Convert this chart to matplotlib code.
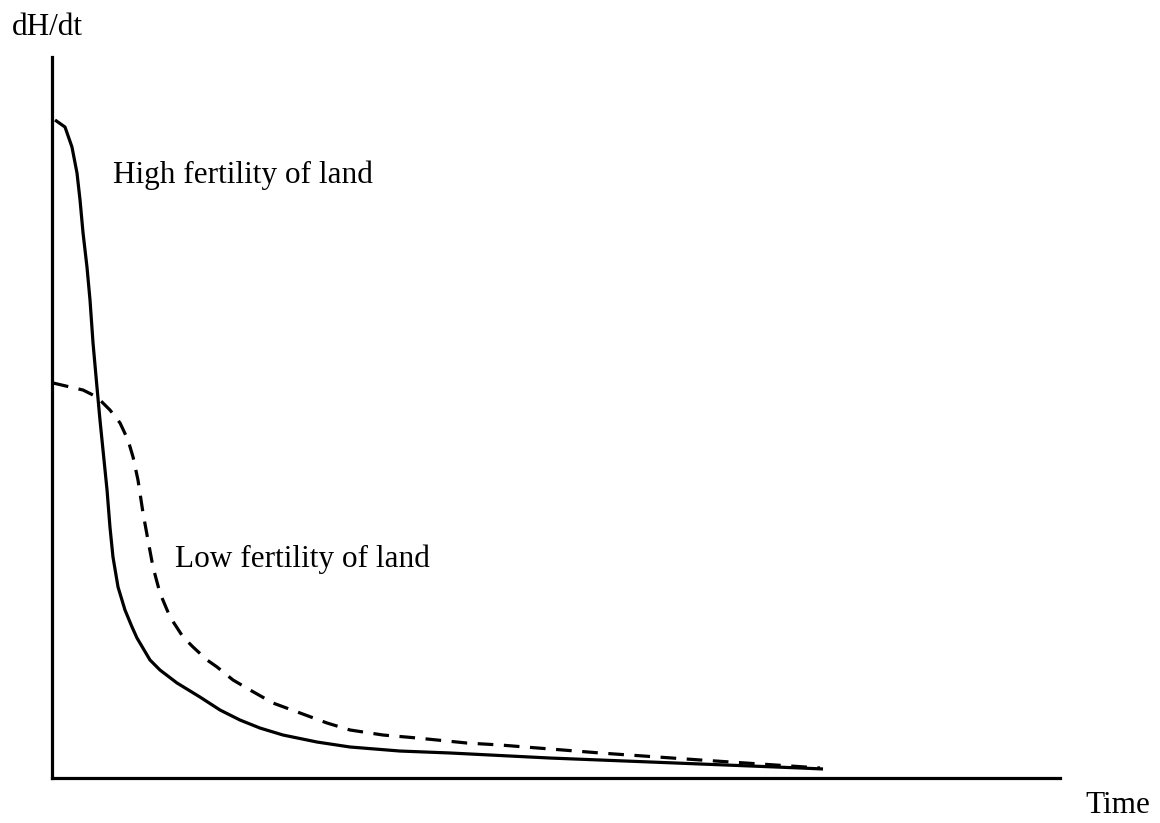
import matplotlib
matplotlib.use("Agg")
import matplotlib.pyplot as plt

# High fertility of land (solid)
high_t = [0.30, 1.29, 1.98, 2.48, 2.78, 3.08, 3.47, 3.77, 4.07, 4.46, 4.76, 5.06, 5.46, 5.75, 6.05,
          6.55, 7.24, 7.94, 8.43, 9.72, 10.71, 12.40, 14.68, 16.67, 18.65, 20.63, 22.92, 26.29,
          29.56, 34.52, 39.48, 49.40, 59.33, 74.21, 76.49]
high_v = [91.26, 90.29, 87.52, 83.91, 80.17, 75.59, 70.87, 66.30, 60.33, 54.23, 49.65, 45.49, 39.94,
          34.81, 30.65, 26.49, 23.30, 20.94, 19.42, 16.37, 14.98, 13.18, 11.23, 9.43, 8.04, 6.93,
          5.96, 4.99, 4.30, 3.74, 3.47, 2.77, 2.22, 1.39, 1.25]

# Low fertility of land (dashed)
low_t = [0.10, 1.79, 3.08, 4.46, 5.75, 6.75, 7.54, 8.04, 8.53, 9.03, 9.52, 10.02, 10.71, 11.71,
         13.00, 13.99, 15.38, 16.37, 17.96, 19.64, 21.92, 24.60, 27.28, 29.56, 32.84, 36.21,
         41.17, 44.44, 54.37, 64.29, 76.19]
low_v = [54.79, 54.23, 53.81, 52.84, 51.04, 49.24, 46.88, 44.52, 41.33, 36.75, 33.01, 29.26, 25.66,
         22.33, 19.56, 18.17, 16.37, 15.40, 13.59, 12.21, 10.40, 9.02, 7.63, 6.66, 5.96, 5.55,
         4.85, 4.58, 3.47, 2.50, 1.39]

W, H = 1160, 823
fig = plt.figure(figsize=(W / 100, H / 100), dpi=100)
ax = fig.add_axes([52 / W, (H - 778) / H, (1060 - 52) / W, (778 - 57) / H])

font = dict(family=["Liberation Serif", "DejaVu Serif"], fontsize=22.5, color="black")

ax.plot(high_t, high_v, color="black", lw=2.3, solid_joinstyle="round", solid_capstyle="butt")
ax.plot(low_t, low_v, color="black", lw=2.3, linestyle=(0, (4.9, 3.3)))

ax.set_xlim(0, 100)
ax.set_ylim(0, 100)
for s in ["top", "right"]:
    ax.spines[s].set_visible(False)
for s in ["left", "bottom"]:
    ax.spines[s].set_linewidth(2.3)
    ax.spines[s].set_color("black")
ax.set_xticks([])
ax.set_yticks([])

ax.text(6.05, 82.5, "High fertility of land", ha="left", va="baseline", **font)
ax.text(12.2, 29.3, "Low fertility of land", ha="left", va="baseline", **font)
fig.text(12 / W, 1 - 35 / H, "dH/dt", ha="left", va="baseline", **font)
fig.text(1085 / W, 1 - 813 / H, "Time", ha="left", va="baseline", **font)

fig.savefig("out.png", dpi=100)
